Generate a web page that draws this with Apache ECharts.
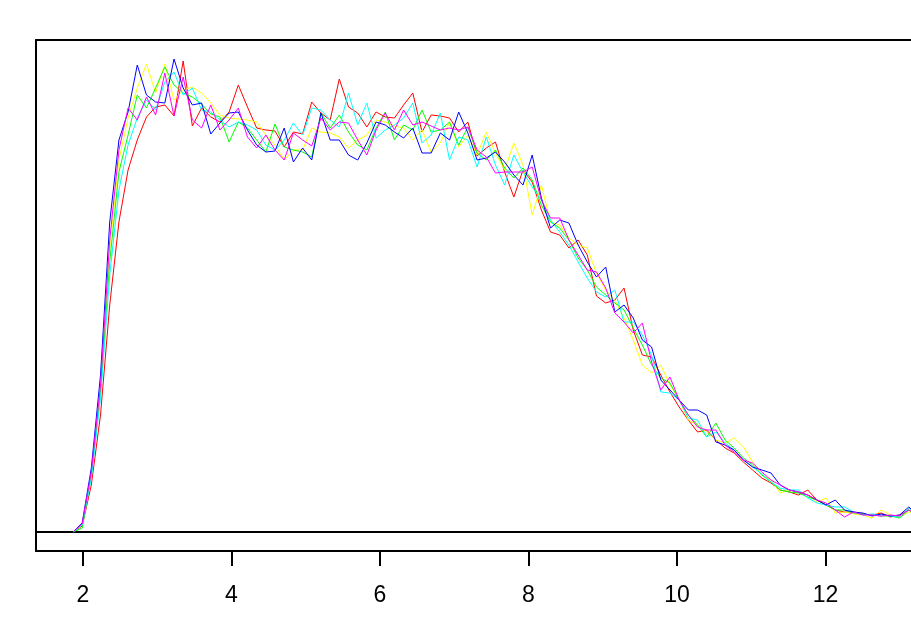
<!DOCTYPE html>
<html>
<head>
<meta charset="utf-8">
<script src="https://cdn.jsdelivr.net/npm/echarts@6/dist/echarts.min.js"></script>
<style>
  html, body { margin: 0; padding: 0; background: #fff; }
  #chart { width: 911px; height: 625px; }
</style>
</head>
<body>
<div id="chart"></div>
<script>
// x positions (bin centres)
var xs = [1.865,1.989,2.112,2.236,2.360,2.484,2.607,2.731,2.855,2.978,
          3.102,3.226,3.349,3.473,3.597,3.721,3.844,3.968,4.092,4.215,
          4.339,4.463,4.586,4.710,4.834,4.958,5.081,5.205,5.329,5.452,
          5.576,5.700,5.823,5.947,6.071,6.195,6.318,6.442,6.566,6.689,
          6.813,6.937,7.060,7.184,7.308,7.432,7.555,7.679,7.803,7.926,
          8.050,8.174,8.297,8.421,8.545,8.669,8.792,8.916,9.040,9.163,
          9.287,9.411,9.534,9.658,9.782,9.906,10.029,10.153,10.277,10.400,
          10.524,10.648,10.771,10.895,11.019,11.143,11.266,11.390,11.514,11.637,
          11.761,11.885,12.008,12.132,12.256,12.380,12.503,12.627,12.751,12.874,
          12.998,13.122,13.245];

var redVals = [0,1.2,9.4,23.4,45.4,62,72.4,78.4,83,85,
  85.4,83.2,94.2,81.2,84.8,83,82,84,89.4,85,
  80.8,80.4,80.2,77,80,79.6,86,83.8,82.4,90.6,
  85,83.8,81,84,83,82.8,85.4,87.8,80,83.4,
  83.2,82.8,80,82,75.2,76.8,78,72,67,72.4,
  70,64.4,60,59.4,56.8,58.4,55.4,47.2,45.8,46.4,
  48.8,40.4,35.4,35,31.4,28,25,22.4,20,20.4,
  18.4,16.8,15.8,14,12.4,10.8,9.8,8.4,8,7.4,
  8.4,6.4,5.4,4.4,4,4,3.6,3.4,3.8,3,
  3.4,4.4,3.4];

var yellowVals = [0,1.4,11.4,28.4,56.4,74.4,82.8,88.8,93.6,87.8,
  93.6,86.4,88.4,89,87.8,85.8,83.4,82.8,82.6,82.4,
  82,79.4,77.4,74.4,76.4,76.4,80.8,80,79.8,79,
  76.8,78.4,79.4,82.4,82,81.2,80.8,78.4,80.4,76,
  77.8,82,77,79.4,75.4,80,75.8,72.4,77.8,73.4,
  63.4,69.4,62,61.4,58.8,57.4,56.8,51.8,48.4,46.4,
  42.8,38.4,33.4,31.8,33.4,29.4,26.4,22.4,21.4,20,
  18.4,17.8,18.8,17,14,11.4,10.4,7.8,8.4,8,
  7.4,6,6.8,3.8,4,3.6,3.4,2.8,4.4,3.4,
  3,4,3.4];

var greenVals = [0,0.8,11.2,27.8,54,72,79.4,87.4,84.8,88.8,
  93,89.4,87.8,87,85.6,83.6,83,78,82,80.8,
  78.4,76,81.6,77,76.4,76,75,83.8,80.8,83.4,
  80,77.4,76.4,80.8,84,78.4,81.4,80.4,84.4,80,
  80.4,82,77.4,81,75.8,74.4,76.4,72.8,70.8,72.8,
  70.4,65.4,62,60.8,58.4,54.8,52.4,49,47.4,45.8,
  44.4,40.8,37.4,33.4,30.8,29.8,26.4,23.4,21.4,19,
  21.8,18.4,16.8,14.8,13.4,11.4,10,8.4,8,7.8,
  7,6.4,5.4,4.4,4.4,3.8,3.6,3.4,3.2,3.2,
  2.8,4.4,2.8];

var cyanVals = [0,1.4,10.8,26.8,51.4,68.4,77.4,82.8,86.4,84.4,
  90,92,87.4,88.8,84.4,84,82.4,81,82,81.4,
  80.4,77.4,76.4,78.4,81.8,79.4,84.8,84.4,82.4,81,
  87.8,81.4,85.8,78.8,80.4,81.4,82.8,85.8,77.8,79.4,
  83.8,74.4,79,78.4,73,79,73.4,69.4,75.4,72,
  69,66.4,62.4,60,57.4,54,50.8,48,47,48.4,
  42,42,39.4,35.4,28,27.8,26.4,22.8,22.4,19,
  20,17.8,16.4,14.4,13,11.6,10,8.8,8.4,8.4,
  6.8,5.8,5.4,5,5,4,3.4,3.6,3.4,3.2,
  3,4.8,3.4];

var blueVals = [0,1.8,12.8,31.4,62,78.4,84,93.4,87.4,86,
  85.8,94.6,88.8,85.4,85.8,79.6,81.8,83.8,84,80.4,
  77.4,76,76.2,80.8,74,76.8,74.4,83.8,78.4,78.4,
  75.4,74.4,77.8,82,81.4,80,78.8,80.8,75.8,75.8,
  79.8,78.4,84,79.8,74.4,74.8,76,74,71.4,69.4,
  75.4,66.8,60.8,62.4,61.8,57.4,54,51,53,44,
  45.4,42.8,38.4,37,30.4,28.4,26.4,24.4,24.4,23.4,
  18,17.4,16.4,14.4,13,12.4,11.8,9.4,8.4,8,
  7.4,6.4,5.4,6.4,4.4,4,3.8,3.2,3.6,3.2,
  3.4,5,3.4];

var magentaVals = [0,1.6,12,29.4,58.4,76.4,84.8,82.4,87,83.4,
  91.8,83.2,91,82.4,80.8,85.4,80.4,82.4,84.8,79,
  76.8,79.4,76.4,74.4,79.8,78.4,77.2,82.8,80.4,82,
  81.8,78.4,75.4,80.4,83.8,80.4,84.4,81.4,82,81.2,
  80.4,80.8,80.4,81,76.4,75,71.8,72,72,72,
  73,66.4,62.8,62.8,58.4,55.4,52.4,52,48.8,43.8,
  42,39.8,41.8,34,28.4,31,26.4,23.4,21,20.4,
  20.4,17.4,16,14.4,13.8,12,10.4,9.4,8.4,8,
  7.4,6.4,5.8,4.4,3,4,3.4,3.4,3.2,3.4,
  3.2,4.4,3.4];

var tickValues = [2, 4, 6, 8, 10, 12];
var seriesNames = ['red', 'yellow', 'green', 'cyan', 'blue', 'magenta'];
var seriesColors = ['#FF0000', '#FFFF00', '#00FF00', '#00FFFF', '#0000FF', '#FF00FF'];
var seriesVals = [redVals, yellowVals, greenVals, cyanVals, blueVals, magentaVals];

function pairs(vals) {
  return xs.map(function (x, i) { return [x, vals[i]]; });
}

var series = seriesVals.map(function (vals, k) {
  var s = {
    name: seriesNames[k],
    type: 'line',
    data: pairs(vals),
    showSymbol: false,
    symbol: 'none',
    clip: true,
    lineStyle: { color: seriesColors[k], width: 1 },
    z: 3 + k
  };
  if (k === 0) {
    s.markLine = {
      silent: true,
      symbol: 'none',
      label: { show: false },
      lineStyle: { color: '#000', type: 'solid', width: 2 },
      data: [{ yAxis: 0 }]
    };
  }
  return s;
});

var chart = echarts.init(document.getElementById('chart'), null, { renderer: 'canvas' });
chart.setOption({
  animation: false,
  backgroundColor: '#fff',
  grid: { left: 36, right: 0, top: 40, bottom: 74, containLabel: false },
  xAxis: [{
    type: 'value',
    position: 'bottom',
    min: 1.367,
    max: 13.152,
    axisLine: { show: true, onZero: false, lineStyle: { color: '#000', width: 2 } },
    axisTick: { show: true, length: 15, customValues: tickValues, lineStyle: { color: '#000', width: 2 } },
    axisLabel: {
      show: true, customValues: tickValues, margin: 33,
      color: '#000', fontSize: 23, fontFamily: 'Liberation Sans, Arial, sans-serif'
    },
    splitLine: { show: false }
  }, {
    type: 'value',
    position: 'top',
    min: 1.367,
    max: 13.152,
    axisLine: { show: true, onZero: false, lineStyle: { color: '#000', width: 2 } },
    axisTick: { show: false },
    axisLabel: { show: false },
    splitLine: { show: false }
  }],
  yAxis: {
    type: 'value',
    min: -3.8,
    max: 98.4,
    axisLine: { show: true, onZero: false, lineStyle: { color: '#000', width: 2 } },
    axisTick: { show: false },
    axisLabel: { show: false },
    splitLine: { show: false }
  },
  series: series
});
</script>
</body>
</html>
